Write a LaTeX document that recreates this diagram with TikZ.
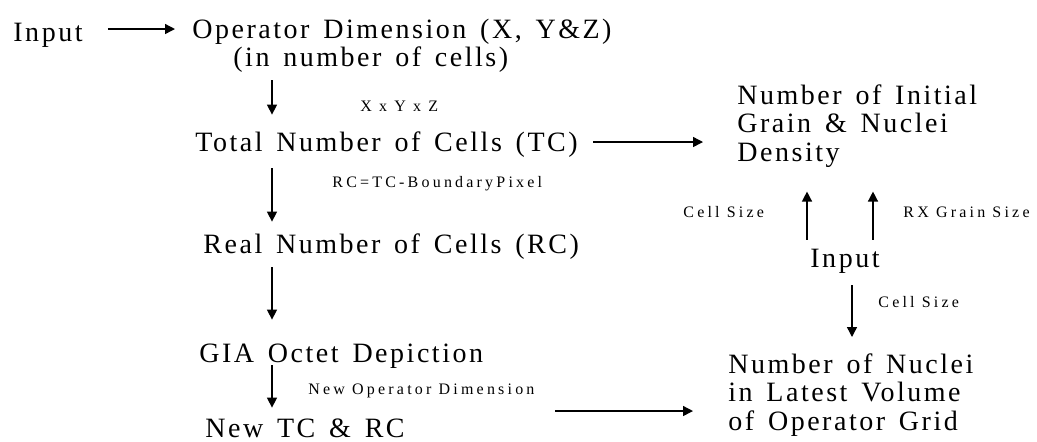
\documentclass[tikz,border=0pt]{standalone}
\usepackage{fontspec}
\setmainfont{Liberation Serif}
\newfontfamily\stepfont[LetterSpace=9,WordSpace=1.45]{Liberation Serif}
\newfontfamily\notefont[LetterSpace=20]{Liberation Serif}
\usetikzlibrary{arrows.meta}

\begin{document}
\begin{tikzpicture}[
    x=0.5pt, y=-0.5pt,
    stepnode/.style={inner sep=0pt, anchor=base west, font=\stepfont\fontsize{14}{14.25}\selectfont, text height=9.8pt, text depth=3.5pt},
    multi/.style={inner sep=0pt, anchor=north west, align=left, font=\stepfont\fontsize{14}{14.25}\selectfont},
    note/.style={inner sep=0pt, anchor=base west, font=\notefont\fontsize{8}{9}\selectfont},
    arrow/.style={-{Triangle[length=5pt,width=5pt]}, line width=0.7pt}
]
\useasboundingbox (0,0) rectangle (1037,441);

% left column
\node[stepnode] (in1) at (13,41) {Input};
\node[stepnode] (opdim) at (192,38) {Operator Dimension (X, Y\&Z)};
\node[stepnode] (cells) at (233,66) {(in number of cells)};
\node[stepnode] (total) at (195,151) {Total Number of Cells (TC)};
\node[stepnode] (real) at (203,253) {Real Number of Cells (RC)};
\node[stepnode] (gia) at (199,362) {GIA Octet Depiction};
\node[stepnode] (newtc) at (205,437) {New TC \& RC};

% right column
\node[multi] (density) at (737,84) {Number of Initial\\Grain \& Nuclei\\Density};
\node[stepnode] (in2) at (810,267) {Input};
\node[multi] (nuclei) at (728,353) {Number of Nuclei\\in Latest Volume\\of Operator Grid};

% small labels
\node[note] (xyz) at (360,111) {X x Y x Z};
\node[note] (rcdef) at (332,187) {RC=TC-BoundaryPixel};
\node[note] (newdim) at (308,394) {New Operator Dimension};
\node[note] (cellA) at (683,217) {Cell Size};
\node[note] (rxsize) at (903,217) {RX Grain Size};
\node[note] (cellB) at (878,307) {Cell Size};

\coordinate (col) at (272,0);

\draw[arrow, shorten <=12.5pt, shorten >=8.5pt] ([yshift=2.85pt]in1.east) -- ([yshift=2.85pt]in1.east -| opdim.west);
\draw[arrow, shorten <=3.5pt, shorten >=8.2pt] (cells.south -| col) -- (total.north -| col);
\draw[arrow, shorten <=5pt, shorten >=5.7pt] (total.south -| col) -- (real.north -| col);
\draw[arrow, shorten <=3.5pt, shorten >=11.2pt] (real.south -| col) -- (gia.north -| col);
\draw[arrow, shorten <=-2pt, shorten >=4.7pt] (gia.south -| col) -- (newtc.north -| col);

\draw[arrow, shorten <=7.5pt, shorten >=17pt] ([yshift=1.35pt]total.east) -- ([yshift=1.35pt]total.east -| density.west);
\draw[arrow, shorten <=75pt, shorten >=17.5pt] ([yshift=9.85pt]newtc.east) -- ([yshift=9.85pt]newtc.east -| nuclei.west);

\draw[arrow, shorten <=3.7pt, shorten >=12pt] ([xshift=-1.5pt]in2.north west) -- ([xshift=-1.5pt]in2.north west |- density.south);
\draw[arrow, shorten <=3.7pt, shorten >=12pt] ([xshift=-3.5pt]in2.north east) -- ([xshift=-3.5pt]in2.north east |- density.south);
\draw[arrow, shorten <=5.5pt, shorten >=8pt] ([xshift=3.5pt]in2.south) -- ([xshift=3.5pt]in2.south |- nuclei.north);

\end{tikzpicture}
\end{document}
